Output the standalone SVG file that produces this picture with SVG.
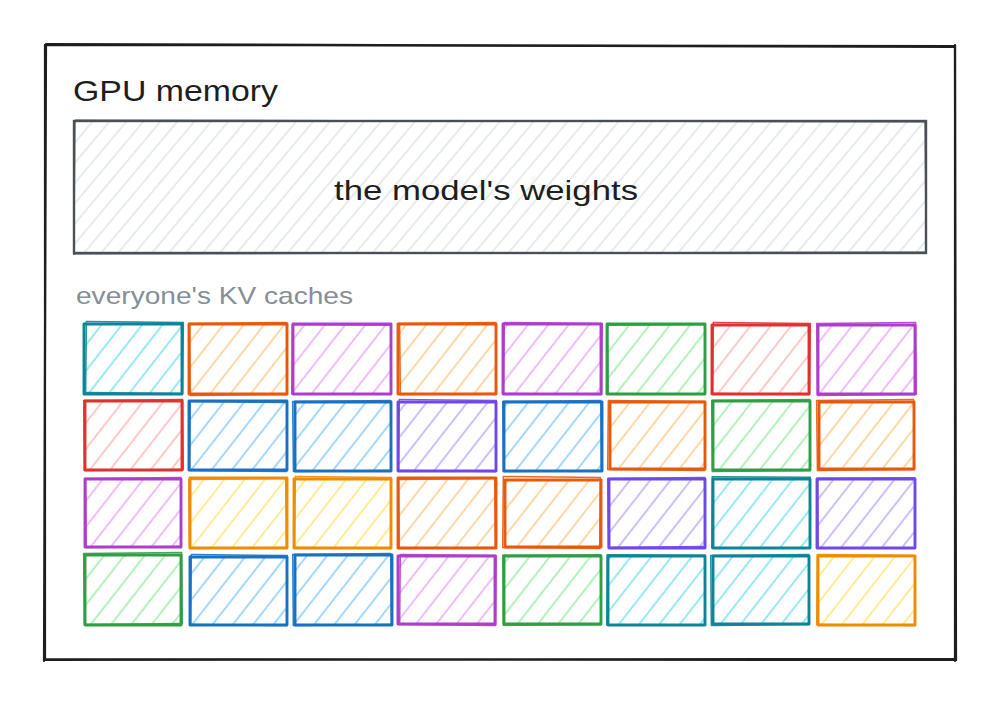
<svg xmlns="http://www.w3.org/2000/svg" width="1000" height="705" viewBox="0 0 1000 705">
<style>
.frame{fill:none;stroke:#1e1e1e;stroke-width:2.2;stroke-linecap:round}
.lbl{font-family:"Liberation Sans","Noto Sans",sans-serif;}
.t1{font-size:30px;fill:#1e1e1e}
.t2{font-size:28px;fill:#1e1e1e}
.t3{font-size:24px;fill:#868e96}
.tile rect{stroke-linecap:round;stroke-linejoin:round}
.tile .a{stroke-width:2.9}
.tile .b{fill:none;stroke-width:1.5;opacity:.9}
.teal .a{fill:url(#h-teal)} .teal rect{stroke:#0c8599}
.orange .a{fill:url(#h-orange)} .orange rect{stroke:#e8590c}
.grape .a{fill:url(#h-grape)} .grape rect{stroke:#ae3ec9}
.green .a{fill:url(#h-green)} .green rect{stroke:#2f9e44}
.red .a{fill:url(#h-red)} .red rect{stroke:#e03131}
.blue .a{fill:url(#h-blue)} .blue rect{stroke:#1971c2}
.violet .a{fill:url(#h-violet)} .violet rect{stroke:#7048e8}
.yellow .a{fill:url(#h-yellow)} .yellow rect{stroke:#f08c00}
</style>
<defs>
<pattern id="h-gray" patternUnits="userSpaceOnUse" width="13" height="13" patternTransform="rotate(40)"><line x1="6" y1="0" x2="6" y2="13" stroke="#dee2e6" stroke-width="1.4"/></pattern>
<pattern id="h-teal" patternUnits="userSpaceOnUse" width="16" height="16" patternTransform="rotate(38)"><line x1="8" y1="0" x2="8" y2="16" stroke="#99e9f2" stroke-width="2"/></pattern>
<pattern id="h-orange" patternUnits="userSpaceOnUse" width="16" height="16" patternTransform="rotate(38)"><line x1="8" y1="0" x2="8" y2="16" stroke="#ffd8a8" stroke-width="2"/></pattern>
<pattern id="h-grape" patternUnits="userSpaceOnUse" width="16" height="16" patternTransform="rotate(38)"><line x1="8" y1="0" x2="8" y2="16" stroke="#eebefa" stroke-width="2"/></pattern>
<pattern id="h-green" patternUnits="userSpaceOnUse" width="16" height="16" patternTransform="rotate(38)"><line x1="8" y1="0" x2="8" y2="16" stroke="#b2f2bb" stroke-width="2"/></pattern>
<pattern id="h-red" patternUnits="userSpaceOnUse" width="16" height="16" patternTransform="rotate(38)"><line x1="8" y1="0" x2="8" y2="16" stroke="#ffc9c9" stroke-width="2"/></pattern>
<pattern id="h-blue" patternUnits="userSpaceOnUse" width="16" height="16" patternTransform="rotate(38)"><line x1="8" y1="0" x2="8" y2="16" stroke="#a5d8ff" stroke-width="2"/></pattern>
<pattern id="h-violet" patternUnits="userSpaceOnUse" width="16" height="16" patternTransform="rotate(38)"><line x1="8" y1="0" x2="8" y2="16" stroke="#d0bfff" stroke-width="2"/></pattern>
<pattern id="h-yellow" patternUnits="userSpaceOnUse" width="16" height="16" patternTransform="rotate(38)"><line x1="8" y1="0" x2="8" y2="16" stroke="#ffec99" stroke-width="2"/></pattern>
</defs>
<rect width="1000" height="705" fill="#ffffff"/>

<g id="gpu-memory">
<path class="frame" d="M45 45 L955 46 L956 660 L45 659 Z"/>
<path class="frame" d="M46 44 L954 47 M955 45 L955 661 M956 659 L44 660 M44 661 L46 44" stroke-width="1.2"/>
<text class="lbl t1" x="73" y="101" textLength="205" lengthAdjust="spacingAndGlyphs">GPU memory</text>
</g>

<g id="weights">
<rect x="74" y="121" width="852" height="132" fill="url(#h-gray)" stroke="#495057" stroke-width="2.4"/>
<path d="M75 120 L927 122 M925 120 L926 254 M927 252 L73 254 M74 255 L75 120" fill="none" stroke="#495057" stroke-width="1.2"/>
<text class="lbl t2" x="486" y="200" text-anchor="middle" textLength="304" lengthAdjust="spacingAndGlyphs">the model's weights</text>
</g>

<g id="kv-label">
<text class="lbl t3" x="76" y="304" textLength="277" lengthAdjust="spacingAndGlyphs">everyone's KV caches</text>
</g>

<g id="kv-caches">
<!-- row 1 -->
<g id="kv-1-1" class="tile teal"><rect class="a" x="84" y="324" width="98" height="70"/><rect class="b" x="86" y="322" width="97" height="71" transform="rotate(0.6 134 358)"/></g>
<g id="kv-1-2" class="tile orange"><rect class="a" x="189" y="324" width="98" height="70"/><rect class="b" x="190" y="323" width="97" height="72" transform="rotate(-0.5 238 358)"/></g>
<g id="kv-1-3" class="tile grape"><rect class="a" x="293" y="324" width="98" height="70"/><rect class="b" x="292" y="325" width="99" height="69" transform="rotate(0.4 342 358)"/></g>
<g id="kv-1-4" class="tile orange"><rect class="a" x="398" y="324" width="98" height="70"/><rect class="b" x="400" y="323" width="96" height="71" transform="rotate(-0.6 447 358)"/></g>
<g id="kv-1-5" class="tile grape"><rect class="a" x="503" y="324" width="98" height="70"/><rect class="b" x="504" y="323" width="98" height="71" transform="rotate(0.5 552 358)"/></g>
<g id="kv-1-6" class="tile green"><rect class="a" x="607" y="324" width="98" height="70"/><rect class="b" x="608" y="325" width="97" height="69" transform="rotate(-0.4 656 358)"/></g>
<g id="kv-1-7" class="tile red"><rect class="a" x="712" y="325" width="97" height="69"/><rect class="b" x="713" y="323" width="97" height="71" transform="rotate(0.6 760 358)"/></g>
<g id="kv-1-8" class="tile grape"><rect class="a" x="818" y="325" width="97" height="69"/><rect class="b" x="817" y="323" width="99" height="72" transform="rotate(-0.5 866 358)"/></g>
<!-- row 2 -->
<g id="kv-2-1" class="tile red"><rect class="a" x="85" y="401" width="97" height="69"/><rect class="b" x="84" y="400" width="99" height="70" transform="rotate(-0.5 134 435)"/></g>
<g id="kv-2-2" class="tile blue"><rect class="a" x="189" y="401" width="98" height="69"/><rect class="b" x="190" y="402" width="97" height="69" transform="rotate(0.5 238 435)"/></g>
<g id="kv-2-3" class="tile blue"><rect class="a" x="295" y="402" width="96" height="69"/><rect class="b" x="293" y="401" width="98" height="70" transform="rotate(-0.6 342 435)"/></g>
<g id="kv-2-4" class="tile violet"><rect class="a" x="398" y="402" width="98" height="69"/><rect class="b" x="399" y="400" width="97" height="71" transform="rotate(0.5 447 435)"/></g>
<g id="kv-2-5" class="tile blue"><rect class="a" x="504" y="402" width="98" height="69"/><rect class="b" x="503" y="401" width="98" height="70" transform="rotate(-0.5 552 435)"/></g>
<g id="kv-2-6" class="tile orange"><rect class="a" x="610" y="402" width="95" height="67"/><rect class="b" x="608" y="401" width="97" height="69" transform="rotate(0.5 656 435)"/></g>
<g id="kv-2-7" class="tile green"><rect class="a" x="713" y="401" width="97" height="69"/><rect class="b" x="712" y="400" width="98" height="71" transform="rotate(-0.5 760 435)"/></g>
<g id="kv-2-8" class="tile orange"><rect class="a" x="819" y="402" width="95" height="67"/><rect class="b" x="817" y="400" width="97" height="70" transform="rotate(-0.7 866 435)"/></g>
<!-- row 3 -->
<g id="kv-3-1" class="tile grape"><rect class="a" x="85" y="479" width="96" height="68"/><rect class="b" x="86" y="478" width="95" height="69" transform="rotate(-0.5 134 512)"/></g>
<g id="kv-3-2" class="tile yellow"><rect class="a" x="190" y="478" width="97" height="70"/><rect class="b" x="189" y="479" width="97" height="69" transform="rotate(-0.6 238 512)"/></g>
<g id="kv-3-3" class="tile yellow"><rect class="a" x="294" y="479" width="97" height="69"/><rect class="b" x="295" y="477" width="96" height="71" transform="rotate(0.6 342 512)"/></g>
<g id="kv-3-4" class="tile orange"><rect class="a" x="398" y="478" width="98" height="70"/><rect class="b" x="399" y="479" width="96" height="69" transform="rotate(-0.5 447 512)"/></g>
<g id="kv-3-5" class="tile orange"><rect class="a" x="505" y="480" width="96" height="67"/><rect class="b" x="503" y="477" width="97" height="71" transform="rotate(0.5 552 512)"/></g>
<g id="kv-3-6" class="tile violet"><rect class="a" x="609" y="479" width="96" height="69"/><rect class="b" x="608" y="478" width="97" height="69" transform="rotate(-0.6 656 512)"/></g>
<g id="kv-3-7" class="tile teal"><rect class="a" x="713" y="479" width="97" height="69"/><rect class="b" x="712" y="477" width="98" height="71" transform="rotate(0.4 760 512)"/></g>
<g id="kv-3-8" class="tile violet"><rect class="a" x="817" y="479" width="98" height="69"/><rect class="b" x="818" y="478" width="97" height="70" transform="rotate(-0.4 866 512)"/></g>
<!-- row 4 -->
<g id="kv-4-1" class="tile green"><rect class="a" x="85" y="555" width="96" height="70"/><rect class="b" x="84" y="553" width="98" height="71" transform="rotate(-0.6 134 589)"/></g>
<g id="kv-4-2" class="tile blue"><rect class="a" x="190" y="557" width="97" height="68"/><rect class="b" x="191" y="555" width="96" height="70" transform="rotate(0.5 238 589)"/></g>
<g id="kv-4-3" class="tile blue"><rect class="a" x="295" y="555" width="97" height="70"/><rect class="b" x="293" y="554" width="98" height="71" transform="rotate(-0.5 342 589)"/></g>
<g id="kv-4-4" class="tile grape"><rect class="a" x="398" y="556" width="97" height="68"/><rect class="b" x="400" y="555" width="96" height="70" transform="rotate(0.5 447 589)"/></g>
<g id="kv-4-5" class="tile green"><rect class="a" x="504" y="556" width="97" height="68"/><rect class="b" x="503" y="555" width="98" height="70" transform="rotate(-0.4 552 589)"/></g>
<g id="kv-4-6" class="tile teal"><rect class="a" x="608" y="556" width="97" height="69"/><rect class="b" x="607" y="555" width="98" height="70" transform="rotate(0.4 656 589)"/></g>
<g id="kv-4-7" class="tile teal"><rect class="a" x="713" y="556" width="96" height="68"/><rect class="b" x="711" y="555" width="98" height="70" transform="rotate(-0.5 760 589)"/></g>
<g id="kv-4-8" class="tile yellow"><rect class="a" x="818" y="556" width="97" height="69"/><rect class="b" x="817" y="555" width="98" height="70" transform="rotate(0.5 866 589)"/></g>
</g>
<g id="connectors"/>
</svg>
